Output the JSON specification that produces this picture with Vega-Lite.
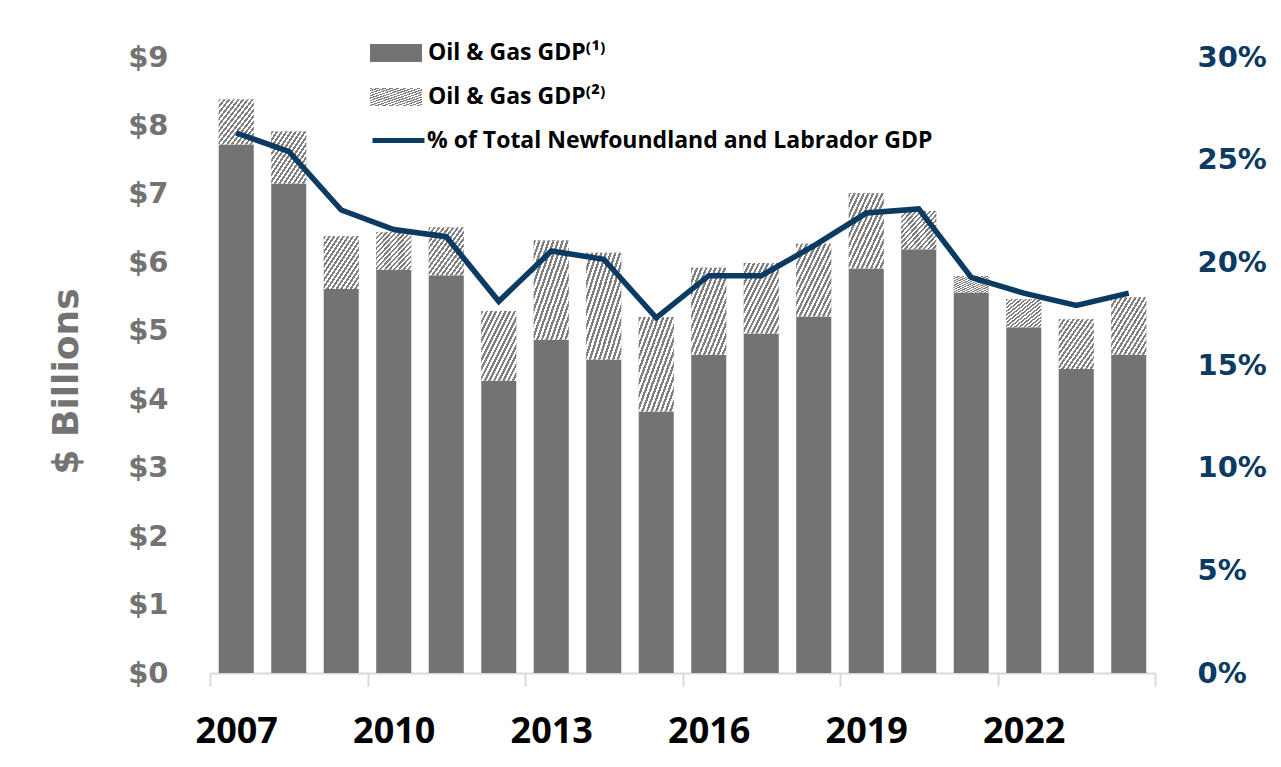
{
  "$schema": "https://vega.github.io/schema/vega-lite/v6.json",
  "width": 945,
  "height": 616,
  "autosize": {"type": "none"},
  "padding": {"left": 210, "top": 57, "right": 126, "bottom": 94},
  "background": "white",
  "config": {"view": {"stroke": null}, "font": "DejaVu Sans"},
  "data": {
    "values": [
      {"year": 2007, "core": 7.72, "extra": 0.66, "pct": 0.263},
      {"year": 2008, "core": 7.15, "extra": 0.76, "pct": 0.254},
      {"year": 2009, "core": 5.61, "extra": 0.77, "pct": 0.2255},
      {"year": 2010, "core": 5.89, "extra": 0.55, "pct": 0.216},
      {"year": 2011, "core": 5.81, "extra": 0.70, "pct": 0.2125},
      {"year": 2012, "core": 4.27, "extra": 1.02, "pct": 0.181},
      {"year": 2013, "core": 4.87, "extra": 1.45, "pct": 0.2055},
      {"year": 2014, "core": 4.58, "extra": 1.56, "pct": 0.2015},
      {"year": 2015, "core": 3.82, "extra": 1.38, "pct": 0.173},
      {"year": 2016, "core": 4.65, "extra": 1.27, "pct": 0.1935},
      {"year": 2017, "core": 4.96, "extra": 1.03, "pct": 0.1935},
      {"year": 2018, "core": 5.21, "extra": 1.06, "pct": 0.208},
      {"year": 2019, "core": 5.91, "extra": 1.10, "pct": 0.224},
      {"year": 2020, "core": 6.19, "extra": 0.56, "pct": 0.226},
      {"year": 2021, "core": 5.56, "extra": 0.24, "pct": 0.1927},
      {"year": 2022, "core": 5.05, "extra": 0.41, "pct": 0.185},
      {"year": 2023, "core": 4.44, "extra": 0.73, "pct": 0.179},
      {"year": 2024, "core": 4.65, "extra": 0.84, "pct": 0.185}
    ]
  },
  "encoding": {
    "x": {
      "field": "year",
      "type": "ordinal",
      "scale": {"paddingInner": 0, "paddingOuter": 0},
      "axis": {
        "title": null,
        "labelAngle": 0,
        "tickBand": "extent",
        "tickSize": 13,
        "tickWidth": 2,
        "tickColor": "#d9d9d9",
        "tickOpacity": {"condition": {"test": "datum.extra || (datum.value - 2006) % 3 === 0", "value": 1}, "value": 0},
        "domainColor": "#d9d9d9",
        "domainWidth": 2,
        "labelExpr": "(datum.value - 2007) % 3 === 0 ? datum.label : ''",
        "labelFont": "Open Sans",
        "labelFontWeight": "bold",
        "labelFontSize": 36,
        "labelColor": "#000000",
        "labelBaseline": "alphabetic",
        "labelPadding": 56,
        "labelOverlap": false,
        "grid": false
      }
    }
  },
  "layer": [
    {
      "layer": [
        {
          "transform": [{"fold": ["core", "extra"], "as": ["series", "value"]}],
          "mark": {"type": "bar", "width": {"band": 0.667}},
          "encoding": {
            "y": {
              "field": "value",
              "type": "quantitative",
              "stack": "zero",
              "scale": {"domain": [0, 9], "nice": false},
              "axis": {
                "title": "$ Billions",
                "titleFont": "DejaVu Sans",
                "titleFontWeight": "bold",
                "titleFontSize": 36,
                "titleColor": "#737373",
                "titleAngle": 270,
                "titleAlign": "center",
                "titleBaseline": "middle",
                "titleX": -144,
                "titleY": 324,
                "values": [0, 1, 2, 3, 4, 5, 6, 7, 8, 9],
                "labelExpr": "'$' + datum.value",
                "labelFont": "DejaVu Sans",
                "labelFontWeight": "bold",
                "labelFontSize": 29,
                "labelColor": "#737373",
                "labelPadding": 42,
                "ticks": false,
                "domain": false,
                "grid": false
              }
            },
            "color": {
              "field": "series",
              "type": "nominal",
              "scale": {"domain": ["core", "extra"], "range": ["#737373", "#b3b3b3"]},
              "legend": {
                "title": null,
                "values": ["core"],
                "orient": "none",
                "legendX": 173,
                "legendY": -17,
                "padding": 0,
                "symbolType": "M-2,-0.7H2V0.7H-2Z",
                "symbolSize": 676,
                "symbolStrokeWidth": 0,
                "symbolOpacity": 1,
                "labelOffset": 19,
                "labelFont": "Open Sans",
                "labelFontWeight": "bold",
                "labelFontSize": 23,
                "labelColor": "#000000",
                "labelLimit": 600,
                "labelExpr": "'Oil & Gas GDP⁽¹⁾'"
              }
            },
            "order": {"field": "series", "sort": "ascending"}
          }
        },
        {
          "transform": [
            {"fold": ["core", "extra"], "as": ["series", "value"]},
            {"stack": "value", "groupby": ["year"], "sort": [{"field": "series", "order": "ascending"}], "as": ["v0", "v1"]},
            {"filter": "datum.series === 'extra'"}
          ],
          "mark": {
            "type": "bar",
            "width": {"band": 0.667},
            "fill": {
              "gradient": "linear", "x1": 0, "y1": 0, "x2": 1, "y2": 1,
              "stops": [
                {"offset": 0, "color": "#7f7f7f"}, {"offset": 0.0333, "color": "#7f7f7f"}, {"offset": 0.0333, "color": "#ffffff"}, {"offset": 0.0667, "color": "#ffffff"},
                {"offset": 0.0667, "color": "#7f7f7f"}, {"offset": 0.1, "color": "#7f7f7f"}, {"offset": 0.1, "color": "#ffffff"}, {"offset": 0.1333, "color": "#ffffff"},
                {"offset": 0.1333, "color": "#7f7f7f"}, {"offset": 0.1667, "color": "#7f7f7f"}, {"offset": 0.1667, "color": "#ffffff"}, {"offset": 0.2, "color": "#ffffff"},
                {"offset": 0.2, "color": "#7f7f7f"}, {"offset": 0.2333, "color": "#7f7f7f"}, {"offset": 0.2333, "color": "#ffffff"}, {"offset": 0.2667, "color": "#ffffff"},
                {"offset": 0.2667, "color": "#7f7f7f"}, {"offset": 0.3, "color": "#7f7f7f"}, {"offset": 0.3, "color": "#ffffff"}, {"offset": 0.3333, "color": "#ffffff"},
                {"offset": 0.3333, "color": "#7f7f7f"}, {"offset": 0.3667, "color": "#7f7f7f"}, {"offset": 0.3667, "color": "#ffffff"}, {"offset": 0.4, "color": "#ffffff"},
                {"offset": 0.4, "color": "#7f7f7f"}, {"offset": 0.4333, "color": "#7f7f7f"}, {"offset": 0.4333, "color": "#ffffff"}, {"offset": 0.4667, "color": "#ffffff"},
                {"offset": 0.4667, "color": "#7f7f7f"}, {"offset": 0.5, "color": "#7f7f7f"}, {"offset": 0.5, "color": "#ffffff"}, {"offset": 0.5333, "color": "#ffffff"},
                {"offset": 0.5333, "color": "#7f7f7f"}, {"offset": 0.5667, "color": "#7f7f7f"}, {"offset": 0.5667, "color": "#ffffff"}, {"offset": 0.6, "color": "#ffffff"},
                {"offset": 0.6, "color": "#7f7f7f"}, {"offset": 0.6333, "color": "#7f7f7f"}, {"offset": 0.6333, "color": "#ffffff"}, {"offset": 0.6667, "color": "#ffffff"},
                {"offset": 0.6667, "color": "#7f7f7f"}, {"offset": 0.7, "color": "#7f7f7f"}, {"offset": 0.7, "color": "#ffffff"}, {"offset": 0.7333, "color": "#ffffff"},
                {"offset": 0.7333, "color": "#7f7f7f"}, {"offset": 0.7667, "color": "#7f7f7f"}, {"offset": 0.7667, "color": "#ffffff"}, {"offset": 0.8, "color": "#ffffff"},
                {"offset": 0.8, "color": "#7f7f7f"}, {"offset": 0.8333, "color": "#7f7f7f"}, {"offset": 0.8333, "color": "#ffffff"}, {"offset": 0.8667, "color": "#ffffff"},
                {"offset": 0.8667, "color": "#7f7f7f"}, {"offset": 0.9, "color": "#7f7f7f"}, {"offset": 0.9, "color": "#ffffff"}, {"offset": 0.9333, "color": "#ffffff"},
                {"offset": 0.9333, "color": "#7f7f7f"}, {"offset": 0.9667, "color": "#7f7f7f"}, {"offset": 0.9667, "color": "#ffffff"}, {"offset": 1, "color": "#ffffff"}
              ]
            }
          },
          "encoding": {
            "y": {
              "field": "v0",
              "type": "quantitative",
              "scale": {"domain": [0, 9], "nice": false},
              "axis": {
                "title": "$ Billions",
                "titleFont": "DejaVu Sans",
                "titleFontWeight": "bold",
                "titleFontSize": 36,
                "titleColor": "#737373",
                "titleAngle": 270,
                "titleAlign": "center",
                "titleBaseline": "middle",
                "titleX": -144,
                "titleY": 324,
                "values": [0, 1, 2, 3, 4, 5, 6, 7, 8, 9],
                "labelExpr": "'$' + datum.value",
                "labelFont": "DejaVu Sans",
                "labelFontWeight": "bold",
                "labelFontSize": 29,
                "labelColor": "#737373",
                "labelPadding": 42,
                "ticks": false,
                "domain": false,
                "grid": false
              }
            },
            "y2": {"field": "v1"},
            "opacity": {
              "datum": "extra",
              "type": "ordinal",
              "scale": {"domain": ["extra"], "range": [1, 1]},
              "legend": {
                "title": null,
                "orient": "none",
                "legendX": 173,
                "legendY": 27,
                "padding": 0,
                "symbolType": "M-2,-0.7H2V0.7H-2Z",
                "symbolSize": 676,
                "symbolStrokeWidth": 0,
                "labelOffset": 19,
                "labelFont": "Open Sans",
                "labelFontWeight": "bold",
                "labelFontSize": 23,
                "labelColor": "#000000",
                "labelLimit": 600,
                "labelExpr": "'Oil & Gas GDP⁽²⁾'"
              }
            }
          }
        }
      ]
    },
    {
      "mark": {"type": "line", "strokeWidth": 5.5, "strokeJoin": "miter"},
      "encoding": {
        "y": {
          "field": "pct",
          "type": "quantitative",
          "scale": {"domain": [0, 0.3], "nice": false},
          "axis": {
            "orient": "right",
            "title": null,
            "values": [0, 0.05, 0.1, 0.15, 0.2, 0.25, 0.3],
            "format": ".0%",
            "labelFont": "DejaVu Sans",
            "labelFontWeight": "bold",
            "labelFontSize": 29,
            "labelColor": "#0b3a62",
            "labelPadding": 42,
            "ticks": false,
            "domain": false,
            "grid": false
          }
        },
        "stroke": {
          "datum": "% of Total Newfoundland and Labrador GDP",
          "type": "nominal",
          "scale": {"range": ["#0b3a62"]},
          "legend": {
            "title": null,
            "orient": "none",
            "legendX": 173,
            "legendY": 68,
            "padding": 0,
            "symbolType": "M-2,0H2",
            "symbolSize": 676,
            "symbolStrokeWidth": 5,
            "labelOffset": 13,
            "labelFont": "Open Sans",
            "labelFontWeight": "bold",
            "labelFontSize": 23,
            "labelColor": "#000000",
            "labelLimit": 700
          }
        }
      }
    }
  ],
  "resolve": {"scale": {"y": "independent"}}
}
